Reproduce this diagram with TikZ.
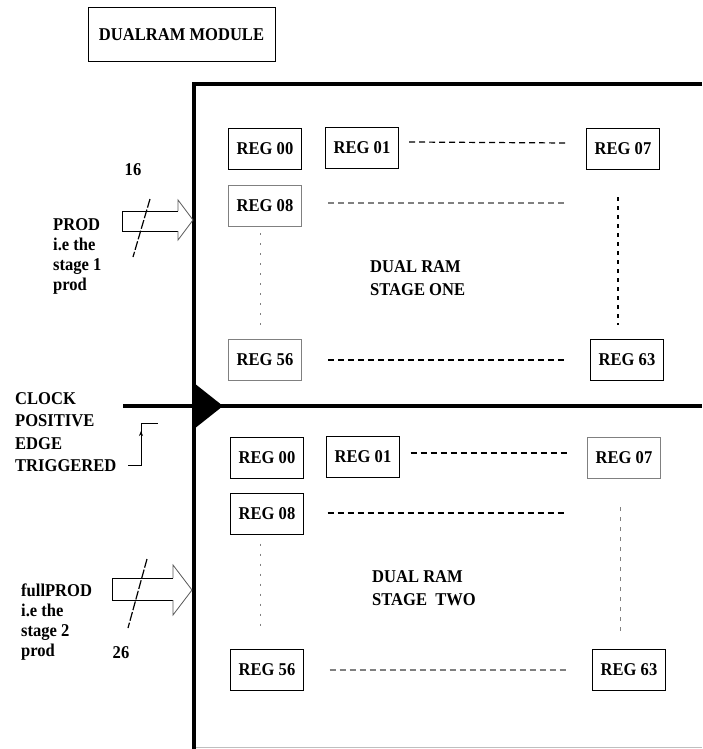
\documentclass[tikz,border=0pt]{standalone}
\usepackage{fontspec}
\setmainfont{Liberation Serif}[FakeStretch=0.92]
\usetikzlibrary{arrows.meta}
\begin{document}
\begin{tikzpicture}[x=1pt,y=-1pt,
  every node/.style={font=\bfseries\fontsize{18}{20}\selectfont},
  regbox/.style={draw,line width=1pt,minimum width=73pt,minimum height=41pt,inner sep=0pt},
  txt/.style={anchor=west,align=left,inner sep=0pt},
  rowdash/.style={dash pattern=on 6pt off 4pt,line width=1.2pt},
  coldot/.style={dash pattern=on 2pt off 8pt,line width=0.9pt,gray}]
\useasboundingbox (0,0) rectangle (702,749);
% module frame
\node[draw,line width=1pt,minimum width=187pt,minimum height=54pt] (title) at (181.5,35) {DUALRAM MODULE};
\draw[line width=4pt] (702,84) -- (194,84) -- (194,749);
\draw[line width=4pt] (123,406) -- (702,406);
\fill (194,383) -- (223,406) -- (194,429) -- cycle;
\draw[gray!50,line width=1pt] (196,747) -- (702,747);
% stage one
\node[regbox] (ra00) at (265,149) {REG 00};
\node[regbox] (ra01) at (362,148) {REG 01};
\node[regbox] (ra07) at (623,149) {REG 07};
\node[regbox,draw=gray] (ra08) at (265,206) {REG 08};
\node[regbox,draw=gray] (ra56) at (265,360) {REG 56};
\node[regbox] (ra63) at (627,360) {REG 63};
\coordinate (ea08) at (567,203);
\coordinate (ca07) at (618,197);
\draw[rowdash] ([shift={(10pt,6pt)}]ra01.east) -- ([shift={(-19pt,6pt)}]ra07.west);
\draw[rowdash,gray] ([shift={(26pt,3pt)}]ra08.east) -- (ea08);
\draw[rowdash] ([xshift=26pt]ra56.east) -- ([xshift=-23pt]ra63.west);
\draw[coldot] ([shift={(-5pt,-6pt)}]ra08.south) -- ([shift={(-5pt,14pt)}]ra56.north);
\draw[dash pattern=on 4pt off 5pt,line width=1.4pt,shorten >=14pt] (ca07) -- (ca07 |- ra63.north);
\node[txt,font=\bfseries\fontsize{18}{23}\selectfont] (one) at (370,278.5) {DUAL RAM\\STAGE ONE};
% stage two
\node[regbox] (rb00) at (267,458) {REG 00};
\node[regbox] (rb01) at (363,457) {REG 01};
\node[regbox,draw=gray] (rb07) at (624,458) {REG 07};
\node[regbox] (rb08) at (267,514) {REG 08};
\node[regbox] (rb56) at (267,670) {REG 56};
\node[regbox] (rb63) at (629,670) {REG 63};
\coordinate (eb08) at (567,513);
\coordinate (cb07) at (620,507);
\draw[rowdash] ([shift={(10.5pt,4pt)}]rb01.east) -- ([shift={(-19.5pt,5pt)}]rb07.west);
\draw[rowdash,line width=1.5pt] ([shift={(23.5pt,1pt)}]rb08.east) -- (eb08);
\draw[rowdash,gray] ([xshift=25.5pt]rb56.east) -- ([xshift=-25.5pt]rb63.west);
\draw[coldot] ([shift={(-7pt,-8.5pt)}]rb08.south) -- ([shift={(-7pt,16pt)}]rb56.north);
\draw[dash pattern=on 4pt off 6pt,line width=1pt,gray,shorten >=16pt] (cb07) -- (cb07 |- rb63.north);
\node[txt,font=\bfseries\fontsize{18}{23}\selectfont] (two) at (372,588.5) {DUAL RAM\\STAGE\ \ TWO};
% inputs
\draw[line width=1pt] (178,211) -- (122,211) -- (122,231) -- (178,231);
\draw[line width=0.8pt,gray!70!black] (178,211) -- (178,200) -- (193,220) -- (178,240) -- (178,231);
\draw[line width=1.2pt,dash pattern=on 9pt off 2pt] (150,199) -- (133,257);
\node (w16) at (133,170) {16};
\node[txt] (prod) at (53,256) {PROD\\i.e the\\stage 1\\prod};
\draw[line width=1pt] (173,578) -- (112,578) -- (112,600) -- (173,600);
\draw[line width=0.8pt,gray!70!black] (173,578) -- (173,565) -- (192,590) -- (173,615) -- (173,600);
\draw[line width=1.2pt,dash pattern=on 9pt off 2pt] (147,559) -- (128,628);
\node (w26) at (121,653) {26};
\node[txt] (fprod) at (21,622) {fullPROD\\i.e the\\stage 2\\prod};
% clock
\node[txt,font=\bfseries\fontsize{18}{22.3}\selectfont] (clk) at (15,432) {CLOCK\\POSITIVE\\EDGE\\TRIGGERED};
\draw[line width=0.8pt] (128,465) -- (141,465) -- (141,423) -- (158,423);
\draw[line width=0.8pt,-{Stealth[length=5pt,width=4pt]}] (141,450) -- (141,431);
\end{tikzpicture}
\end{document}
